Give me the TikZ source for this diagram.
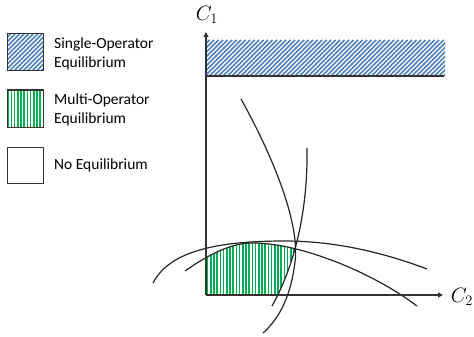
\documentclass[tikz,border=0pt]{standalone}
\usepackage{fontspec}
\setmainfont{Carlito}
\usepackage{tikz}
\usetikzlibrary{arrows.meta}
\definecolor{hatchblue}{RGB}{79,129,189}
\definecolor{stripegreen}{RGB}{0,176,80}
\definecolor{axisgray}{RGB}{50,50,50}

\begin{document}
\begin{tikzpicture}[x=1pt,y=-1pt,
  curve/.style={line width=1.2pt,black!85},
  axis/.style={line width=1.6pt,axisgray,-{Triangle[length=5pt,width=5pt]}},
  hatch/.style={hatchblue,line width=1.7pt},
  stripe/.style={stripegreen,line width=1.6pt},
  legendbox/.style={draw=axisgray,line width=1pt},
  legendtext/.style={anchor=west,align=left,inner sep=0pt,font=\fontsize{15.5}{19}\selectfont},
  axislabel/.style={inner sep=0pt,font=\fontsize{20}{24}\selectfont}]
\fill[white] (0,0) rectangle (474,337);
\useasboundingbox (0,0) rectangle (474,337);

% single-operator band
\begin{scope}
\clip (207,40) rectangle (445,76);
\foreach \x in {160,164.5,...,450} \draw[hatch] (\x,76) -- (\x+36,40);
\end{scope}

% multi-operator region
\begin{scope}
\clip (206,200) rectangle (320,295);
\clip (185,271) .. controls (215,250) and (235,243) .. (253,243) .. controls (300,243) and (372,272) .. (417,306) -- (417,337) -- (185,337) -- cycle;
\clip (307,148) .. controls (308,210) and (295,265) .. (272,306) -- (150,306) -- (150,148) -- cycle;
\foreach \x in {207.6,210.8,...,320} \draw[stripe] (\x,200) -- (\x,296);
\end{scope}

% curves
\draw[curve] (241,99) .. controls (275,160) and (300,225) .. (295,262) .. controls (291,295) and (280,318) .. (263,333);
\draw[curve] (307,148) .. controls (308,210) and (295,265) .. (272,306);
\draw[curve] (153,283) .. controls (170,250) and (220,241) .. (285,241) .. controls (340,241) and (390,255) .. (427,269);
\draw[curve] (185,271) .. controls (215,250) and (235,243) .. (253,243) .. controls (300,243) and (372,272) .. (417,306);

% axes
\coordinate (origin) at (206,295);
\coordinate (ytip) at (206,32);
\coordinate (xtip) at (443,295);
\coordinate (bandL) at (206,76);
\coordinate (bandR) at (444,76);
\draw[axis] (origin) -- (ytip);
\draw[axis] (origin) -- (xtip);
\draw[line width=1.6pt,axisgray] (bandL) -- (bandR);
\node[axislabel] (cone) at (207,15) {$C_1$};
\node[axislabel] (ctwo) at (462,297) {$C_2$};

% legend
\begin{scope}
\clip (7,34) rectangle (43,71);
\foreach \x in {-40,-35.5,...,45} \draw[hatch] (\x,71) -- (\x+37,34);
\end{scope}
\draw[legendbox] (7,34) rectangle (43,71);
\begin{scope}
\clip (7,90) rectangle (43,127);
\foreach \x in {8.2,11.4,...,43} \draw[stripe] (\x,90) -- (\x,127);
\end{scope}
\draw[legendbox] (7,90) rectangle (43,127);
\draw[legendbox] (7,147) rectangle (43,183);
\node[legendtext] (single) at (54,53.5) {Single-Operator\\Equilibrium};
\node[legendtext] (multi) at (54,109.5) {Multi-Operator\\Equilibrium};
\node[legendtext] (none) at (54,165.5) {No Equilibrium};
\end{tikzpicture}
\end{document}
